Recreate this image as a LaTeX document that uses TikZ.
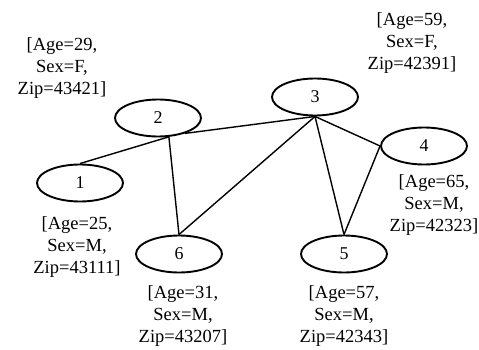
\documentclass[tikz,border=0pt]{standalone}
\usepackage{fontspec}
\setmainfont{Liberation Serif}
\usetikzlibrary{shapes.geometric}

\begin{document}
\begin{tikzpicture}[x=1pt,y=-1pt]
        \tikzset{person/.style = {draw, ellipse, line width=1.9pt, minimum width=86pt, minimum height=37pt, inner sep=0pt, font=\fontsize{18}{20}\selectfont}}
        \tikzset{attrs/.style = {align=center, inner sep=0pt, font=\fontsize{18.5}{22}\selectfont}}
        \tikzset{link/.style = {line width=1.4pt}}

        \useasboundingbox (0,0) rectangle (479,350);

        \node[person] (n1) at (80,183) {1};
        \node[person] (n2) at (158,118) {2};
        \node[person] (n3) at (315,97) {3};
        \node[person] (n4) at (424,146) {4};
        \node[person] (n5) at (344,254) {5};
        \node[person] (n6) at (179,254) {6};

        \node[attrs] (a1) at (77,247) {[Age=25,\\Sex=M,\\Zip=43111]};
        \node[attrs] (a2) at (62,68) {[Age=29,\\Sex=F,\\Zip=43421]};
        \node[attrs] (a3) at (412,43) {[Age=59,\\Sex=F,\\Zip=42391]};
        \node[attrs] (a4) at (434,205) {[Age=65,\\Sex=M,\\Zip=42323]};
        \node[attrs] (a5) at (344,316) {[Age=57,\\Sex=M,\\Zip=42343]};
        \node[attrs] (a6) at (183,316) {[Age=31,\\Sex=M,\\Zip=43207]};

        % edges
        \draw[link] (n1.north) -- (n2.-60);
        \draw[link] (n2.-30) -- (n3.south);
        \draw[link] (n2.-60) -- (n6.north);
        \draw[link] (n3.south) -- (n6.north);
        \draw[link] (n3.south) -- (n5.north);
        \draw[link] (n3.south) -- (n4.west);
        \draw[link] (n4.west) -- (n5.north);

    \end{tikzpicture}
\end{document}
